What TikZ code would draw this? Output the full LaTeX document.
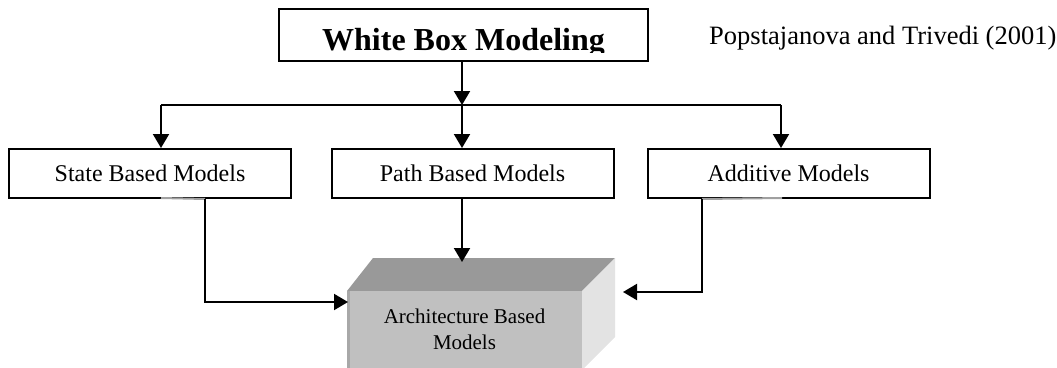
\documentclass[tikz,border=0pt]{standalone}
\usepackage{fontspec}
\setmainfont{Liberation Serif}
\usetikzlibrary{arrows.meta}
\definecolor{cubetop}{HTML}{999999}
\definecolor{cubefront}{HTML}{C0C0C0}
\definecolor{cubeside}{HTML}{E3E3E3}
\definecolor{cubeedge}{HTML}{A8A8A8}
\definecolor{ghost}{HTML}{A0A0A0}
\tikzset{
  modelbox/.style={draw=black, line width=2pt, fill=white, inner sep=0pt,
    minimum width=282pt, minimum height=49pt,
    font=\fontsize{24}{28}\selectfont},
  conn/.style={line width=2pt, draw=black},
  arr/.style={conn, -{Triangle[length=14pt,width=16pt]}},
  ghostline/.style={line width=2pt, draw=ghost},
}
\begin{document}
\begin{tikzpicture}[x=1pt,y=-1pt]
\useasboundingbox (0,0) rectangle (1057,367);
\begin{scope}
\clip (0,0) rectangle (1057,367);
% top box
\node[draw=black, line width=2pt, inner sep=0pt, minimum width=369pt, minimum height=52pt] (white) at (463.5,35) {};
\begin{scope}
\clip (279,9) rectangle (648,52.5);
\node[anchor=base, inner sep=0pt, font=\fontsize{32}{36}\selectfont\bfseries] (whitetext) at (463.5,50) {White Box Modeling};
\end{scope}
\node[anchor=base west, inner sep=0pt, font=\fontsize{26.5}{30}\selectfont] (ref) at (709,44) {Popstajanova and Trivedi (2001)};
% second row
\node[modelbox] (state) at (150,173.5) {State Based Models};
\node[modelbox] (path) at (472.5,173.5) {Path Based Models};
\node[modelbox] (add) at (788.5,173.5) {Additive Models};
% ghost lines over the lower borders
\draw[ghostline] (161,198) -- ([xshift=55pt]state.south);
\draw[ghostline] ([xshift=-86.5pt]add.south) -- (782,198);
% cube
\fill[cubetop] (347,291) -- (373,258) -- (615,258) -- (582,291) -- cycle;
\fill[cubeside] (582,291) -- (615,258) -- (615,337) -- (582,370) -- cycle;
\fill[cubefront] (347,291) rectangle (582,370);
\fill[cubeedge] (347,291) rectangle (350,370);
\node[inner sep=0pt, align=center, font=\fontsize{21}{26}\selectfont] (cube) at (464.5,329) {Architecture Based\\Models};
% junctions
\coordinate (J) at (462,105);
\coordinate (JL) at (161,105);
\coordinate (JR) at (781,105);
\coordinate (cubeL) at (348,302);
\coordinate (cubeT) at (462,262);
\coordinate (cubeR) at (623,292);
\draw[arr] (white.south -| J) -- (J);
\draw[conn] (JL) -- (JR);
\draw[arr] (JL) -- (JL |- state.north);
\draw[arr] (J) -- (J |- path.north);
\draw[arr] (JR) -- (JR |- add.north);
\draw[arr] ([xshift=55pt]state.south) |- (cubeL);
\draw[arr] (path.south -| cubeT) -- (cubeT);
\draw[arr] ([xshift=-86.5pt]add.south) |- (cubeR);
\end{scope}
\end{tikzpicture}
\end{document}
